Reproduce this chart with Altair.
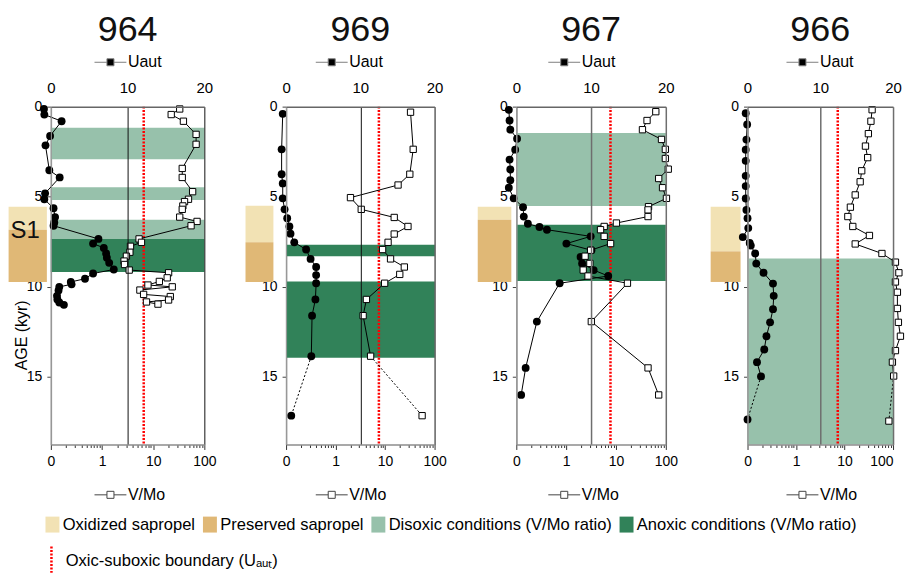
import altair as alt
import pandas as pd

FONT = "Liberation Sans"

# ---------------- data ----------------
PANELS = ["964", "969", "967", "966"]

U_AGE_964 = [0.13, 0.44, 0.81, 1.63, 2.15, 3.53, 3.93, 4.81, 5.14, 5.64, 6.13, 6.43, 6.61, 7.34, 7.6, 7.84,
             8.15, 8.39, 8.67, 9.04, 9.26, 9.55, 9.73, 9.86, 10.0, 10.2, 10.5, 10.7, 10.87, 11.0]
U_VAL_964 = [-0.9, -0.85, 1.4, -0.1, -0.7, -0.2, 1.15, -0.75, -0.85, 0.35, 0.55, 0.45, 0.35, 6.2, 5.5, 6.9,
             7.2, 7.3, 7.6, 8.2, 5.5, 4.45, 2.6, 2.7, 1.1, 1.0, 0.8, 0.85, 1.1, 1.7]
V_AGE_964 = [0.13, 0.44, 0.81, 1.54, 2.09, 3.43, 3.93, 4.72, 5.14, 5.27, 5.51, 5.7, 6.13, 6.37, 6.61, 7.34,
             7.53, 7.75, 8.08, 8.3, 8.57, 8.76, 9.07, 9.22, 9.5, 9.7, 9.9, 10.0, 10.18, 10.42, 10.54, 10.73,
             10.84, 10.96]
V_VAL_964 = [33, 22.5, 39, 69, 69, 37, 37, 59, 49, 41, 38, 37, 33, 72, 55, 5.3,
             5.9, 3.6, 3.5, 3.0, 2.7, 2.75, 3.4, 20, 18.8, 13.2, 7.9, 23.6, 5.5, 6.5, 21.6, 20,
             7.4, 12.4]

U_AGE_969 = [0.4, 2.37, 3.75, 4.26, 5.09, 5.7, 6.19, 6.65, 7.05, 7.53, 7.93, 8.45, 8.9, 9.35, 9.8, 10.7,
             11.6, 13.85, 17.15]
U_VAL_969 = [-0.45, -0.6, -0.6, -0.45, -0.45, -0.2, 0.15, 0.45, 0.6, 1.1, 2.7, 3.3, 4.05, 4.05, 4.05, 3.95,
             3.5, 3.4, 0.7]
V_AGE_969 = [0.31, 2.37, 3.75, 4.35, 5.05, 5.7, 6.15, 6.65, 7.07, 7.53, 7.93, 8.45, 8.9, 9.31, 9.8, 10.7,
             11.6, 13.85, 17.15]
V_VAL_969 = [32.7, 37, 31.6, 18.3, 2.0, 3.3, 15.3, 29, 15.3, 11.5, 8.9, 12.9, 24.5, 19.8, 9.8, 4.2,
             3.6, 5.1, 56]

U_AGE_967 = [0.18, 0.77, 1.28, 1.78, 2.39, 2.94, 3.49, 4.08, 4.5, 5.09, 5.58, 6.1, 6.5, 6.68, 6.83, 7.2,
             7.6, 7.97, 8.34, 8.7, 9.07, 9.4, 9.8, 11.93, 14.5, 16.0]
U_VAL_967 = [-1.0, -0.9, -0.8, 0.1, -0.15, -0.9, -0.8, -0.8, -1.0, -0.35, 0.9, 1.0, 1.55, 3.1, 4.1, 9.95,
             6.7, 10.05, 8.6, 8.8, 10.35, 12.3, 5.8, 2.75, 1.25, 0.65]
V_AGE_967 = [0.28, 0.77, 1.28, 1.82, 2.37, 2.88, 3.47, 3.99, 4.5, 5.09, 5.55, 5.73, 6.1, 6.46, 6.65, 6.83,
             7.2, 7.6, 7.97, 8.3, 8.7, 9.07, 9.4, 9.8, 11.93, 14.5, 16.0]
V_VAL_967 = [63, 42, 34, 82, 98, 98, 112, 72, 86, 103, 45, 44, 44, 10.2, 5.8, 4.9,
             5.8, 7.8, 3.1, 2.4, 3.0, 2.2, 2.75, 17, 3.2, 44, 72]

U_AGE_966 = [0.37, 0.99, 1.83, 2.39, 3.01, 3.84, 4.41, 5.1, 5.73, 6.19, 6.74, 7.24, 7.57, 7.71, 8.15, 8.71,
             9.22, 9.82, 10.5, 11.24, 11.97, 12.74, 13.48, 14.18, 14.97, 17.36]
U_VAL_966 = [-0.25, -0.05, -0.15, -0.25, -0.25, -0.25, -0.25, -0.25, -0.15, 0.0, 0.1, -0.65, 0.3, 0.45, 1.05, 1.2,
             2.2, 3.5, 3.6, 3.5, 3.1, 2.6, 2.3, 1.3, 1.85, 0.0]
V_AGE_966 = [0.17, 0.81, 1.5, 2.19, 2.83, 3.56, 4.17, 4.9, 5.58, 6.1, 6.65, 7.15, 7.62, 8.15, 8.63, 9.22,
             9.73, 10.3, 11.2, 11.97, 12.74, 13.54, 14.18, 14.95, 17.45]
V_VAL_966 = [37, 35, 31, 27, 30, 22.6, 21, 16.6, 13.2, 11.7, 14.8, 32.6, 16.6, 59, 112, 132,
             112, 123, 123, 129, 142, 112, 97, 103, 82]

U_AGES = [U_AGE_964, U_AGE_969, U_AGE_967, U_AGE_966]
U_VALS = [U_VAL_964, U_VAL_969, U_VAL_967, U_VAL_966]
V_AGES = [V_AGE_964, V_AGE_969, V_AGE_967, V_AGE_966]
V_VALS = [V_VAL_964, V_VAL_969, V_VAL_967, V_VAL_966]
DOTTED_LAST = [False, True, False, True]   # last segment drawn dotted

BAND_TYPES = ["Oxidized sapropel", "Preserved sapropel",
              "Disoxic conditions (V/Mo ratio)", "Anoxic conditions (V/Mo ratio)"]
BAND_COLORS = ["#f2e2b4", "#e0b876", "#97c1ab", "#318259"]

# redox bands (start, end, type index)
BAND_START = [[1.17, 4.48, 6.28, 7.35], [7.66, 9.71], [1.47, 6.56], [8.43]]
BAND_END = [[2.92, 5.18, 7.35, 9.18], [8.3, 13.94], [5.51, 9.68], [18.75]]
BAND_KIND = [[2, 2, 2, 3], [3, 3], [2, 3], [2]]

# sapropel S1 (oxidized, preserved)
SAP_START = [[5.55, 6.83], [5.5, 7.53], [5.55, 6.28], [5.55, 8.03]]
SAP_END = [[6.83, 9.73], [7.53, 9.73], [6.28, 9.73], [8.03, 9.73]]

BOUNDARY_U = [12.1, 12.5, 12.6, 12.4]
BOUNDARY_LABEL = "Oxic-suboxic boundary (U\u2090\u1d64\u209c)"

# ---------------- layout / style ----------------
H = 339
WIDTHS = [154, 149, 150, 146]
SAP_X = [(-42.4, -4), (-40.7, -12.7), (-38.7, -5), (-37, -7)]
LEG_X = [43.3, 29.3, 31.6, 38.6]
GRID_COLOR = ["#111111", "#111111", "#6e6e6e", "#6e6e6e"]
GRID_WIDTH = [1, 1, 1.5, 1.5]

LEG_PATH = "M-1,0H-0.22M0.22,0H1M-0.22,-0.22H0.22V0.22H-0.22Z"
RECT_PATH = "M-0.875,-1H0.875V1H-0.875Z"
VLINE_PATH = "M0,-3.75V3.75"

MAJOR = "datum.value==0.1||datum.value==1||datum.value==10||datum.value==100"
LOG_TICKS = [m * 10.0 ** e for e in (-1, 0, 1) for m in range(1, 10)] + [100.0]

yscale = alt.Scale(domain=[0, 18.75], reverse=True, nice=False, zero=False)


def yaxis(i):
    kw = dict(values=[0, 5, 10, 15], grid=False, labelFontSize=14, tickSize=4, labelPadding=5,
              domainColor="#8c8c8c", domainWidth=1.5, tickColor="#444")
    if i == 0:
        kw.update(titleX=-29, titleY=229, titleAngle=270, titleAlign="center", titleBaseline="middle",
                  titleFontSize=16, titleFontWeight="normal", titleFont=FONT, titleColor="black")
    return alt.Axis(**kw)


def panel(i):
    w = WIDTHS[i]
    ytitle = "AGE (kyr)" if i == 0 else None
    Y = lambda f: alt.Y(f, type="quantitative", scale=yscale, axis=yaxis(i), title=ytitle)

    # bands
    bdf = pd.DataFrame({"start": BAND_START[i], "end": BAND_END[i],
                        "type": [BAND_TYPES[k] for k in BAND_KIND[i]]})
    sdf = pd.DataFrame({"start": SAP_START[i], "end": SAP_END[i], "type": BAND_TYPES[:2]})
    fill_enc = alt.Fill("type:N", scale=alt.Scale(domain=BAND_TYPES, range=BAND_COLORS),
                        legend=alt.Legend(title=None, orient="none", legendX=-6.7, legendY=411,
                                          direction="horizontal", columns=4, symbolType=RECT_PATH,
                                          symbolSize=256, symbolStrokeWidth=0, symbolOpacity=1,
                                          labelFontSize=16.6, labelLimit=400, labelOffset=2,
                                          columnPadding=6))
    bands = alt.Chart(bdf).mark_rect().encode(
        y=Y("start"), y2="end", x=alt.value(0), x2=alt.value("width"), fill=fill_enc)
    sap = alt.Chart(sdf).mark_rect().encode(
        y=Y("start"), y2="end", x=alt.value(SAP_X[i][0]), x2=alt.value(SAP_X[i][1]), fill=fill_enc)
    layers = [bands, sap]
    if i == 0:
        tdf = pd.DataFrame({"age": [6.9], "label": ["S1"]})
        layers.append(alt.Chart(tdf).mark_text(fontSize=24, font=FONT, color="#111", baseline="middle").encode(
            y=Y("age"), x=alt.value(-25.7), text="label:N"))

    # ---- Uaut (top, linear) ----
    top_axis = alt.Axis(orient="top", values=[0, 10, 20], labelFontSize=15, tickSize=0, labelPadding=11,
                        labelFlush=False,
                        grid=True, gridColor={"condition": {"test": "datum.value==0", "value": "#9a9a9a"},
                                              "value": GRID_COLOR[i]},
                        gridWidth=GRID_WIDTH[i], domainColor="#666", domainWidth=1.5, zindex=1)
    XU = alt.X("u:Q", scale=alt.Scale(domain=[0, 20], nice=False, zero=False), axis=top_axis, title=None)
    udf = pd.DataFrame({"age": U_AGES[i], "u": U_VALS[i]})
    n = len(udf)
    u_solid = udf.iloc[: n - 1] if DOTTED_LAST[i] else udf
    rdf = pd.DataFrame({"u": [BOUNDARY_U[i]], "lab": [BOUNDARY_LABEL]})
    rule = alt.Chart(rdf).mark_rule(color="#ff0000", strokeWidth=2.5).encode(
        x=XU, y=alt.value(0), y2=alt.value("height"),
        strokeDash=alt.StrokeDash("lab:N", scale=alt.Scale(domain=[BOUNDARY_LABEL], range=[[2, 1.5]]),
                                  legend=alt.Legend(title=None, orient="none", legendX=-7.7, legendY=448,
                                                    symbolType=VLINE_PATH, symbolSize=64,
                                                    symbolStrokeWidth=2.5, labelFontSize=16.6,
                                                    labelLimit=400, labelOffset=6)))
    ulayers = [rule,
               alt.Chart(u_solid).mark_line(color="black", strokeWidth=1).encode(x=XU, y=Y("age"), order="age:Q")]
    if DOTTED_LAST[i]:
        ulayers.append(alt.Chart(udf.iloc[n - 2:]).mark_line(color="black", strokeWidth=1, strokeDash=[2, 2]).encode(
            x=XU, y=Y("age"), order="age:Q"))
    ulayers.append(alt.Chart(udf).transform_calculate(series="'Uaut'").mark_point(
        filled=True, shape="circle", size=62, opacity=1).encode(
        x=XU, y=Y("age"),
        color=alt.Color("series:N", scale=alt.Scale(domain=["Uaut"], range=["black"]),
                        legend=alt.Legend(title=None, orient="none", legendX=LEG_X[i], legendY=-61,
                                          symbolType=LEG_PATH, symbolSize=1024, symbolStrokeColor="#808080",
                                          symbolStrokeWidth=1, symbolOpacity=1, labelFontSize=16,
                                          labelOffset=1))))
    ugroup = alt.layer(*ulayers)

    # ---- V/Mo (bottom, log) ----
    last_align = "right" if i == 3 else "center"
    bottom_axis = alt.Axis(orient="bottom", values=LOG_TICKS, labelOverlap=False, labelBound=False,
                           labelFlush=False,
                           labelAlign={"condition": {"test": "datum.value==100", "value": last_align},
                                       "value": "center"},
                           labelExpr="datum.value==0.1 ? '0' : datum.value==1 ? '1' : datum.value==10 ? '10' : datum.value==100 ? '100' : ''",
                           labelFontSize=14, labelPadding=5,
                           tickSize={"condition": {"test": MAJOR, "value": 5}, "value": 3},
                           tickColor="#333", domainColor="#8c8c8c", domainWidth=1.5, grid=False, zindex=1)
    XV = alt.X("v:Q", scale=alt.Scale(type="log", domain=[0.1, 100], nice=False), axis=bottom_axis, title=None)
    vdf = pd.DataFrame({"age": V_AGES[i], "v": V_VALS[i]})
    m = len(vdf)
    v_solid = vdf.iloc[: m - 1] if DOTTED_LAST[i] else vdf
    vlayers = [alt.Chart(v_solid).mark_line(color="black", strokeWidth=1).encode(x=XV, y=Y("age"), order="age:Q")]
    if DOTTED_LAST[i]:
        vlayers.append(alt.Chart(vdf.iloc[m - 2:]).mark_line(color="black", strokeWidth=1, strokeDash=[2, 2]).encode(
            x=XV, y=Y("age"), order="age:Q"))
    vlayers.append(alt.Chart(vdf).transform_calculate(series="'V/Mo'").mark_point(
        filled=True, shape="square", size=40, opacity=1, stroke="black", strokeWidth=1).encode(
        x=XV, y=Y("age"),
        color=alt.Color("series:N", scale=alt.Scale(domain=["V/Mo"], range=["white"]),
                        legend=alt.Legend(title=None, orient="none", legendX=LEG_X[i], legendY=373,
                                          symbolType=LEG_PATH, symbolSize=1024, symbolStrokeColor="#444",
                                          symbolStrokeWidth=1, symbolOpacity=1, labelFontSize=16,
                                          labelOffset=1))))
    vgroup = alt.layer(*vlayers)

    layers += [ugroup, vgroup]
    return alt.layer(*layers).resolve_scale(x="independent", color="independent").resolve_legend(
        color="independent").properties(
        width=w, height=H,
        title=alt.Title(PANELS[i], fontSize=36, font=FONT, fontWeight="normal", anchor="middle",
                        frame="group", offset=-3, color="#111"))


chart = alt.hconcat(*[panel(i) for i in range(4)], spacing=82, bounds="flush").resolve_scale(
    color="independent", fill="shared", strokeDash="shared").resolve_legend(
    color="independent").properties(padding={"left": 0, "top": 3, "right": 0, "bottom": 0}).configure(
    font=FONT).configure_view(stroke=None).configure_legend(labelFont=FONT, labelColor="black").configure_axis(
    labelFont=FONT, labelColor="black")

chart.save("out.html", embed_options={"renderer": "svg", "actions": False})
